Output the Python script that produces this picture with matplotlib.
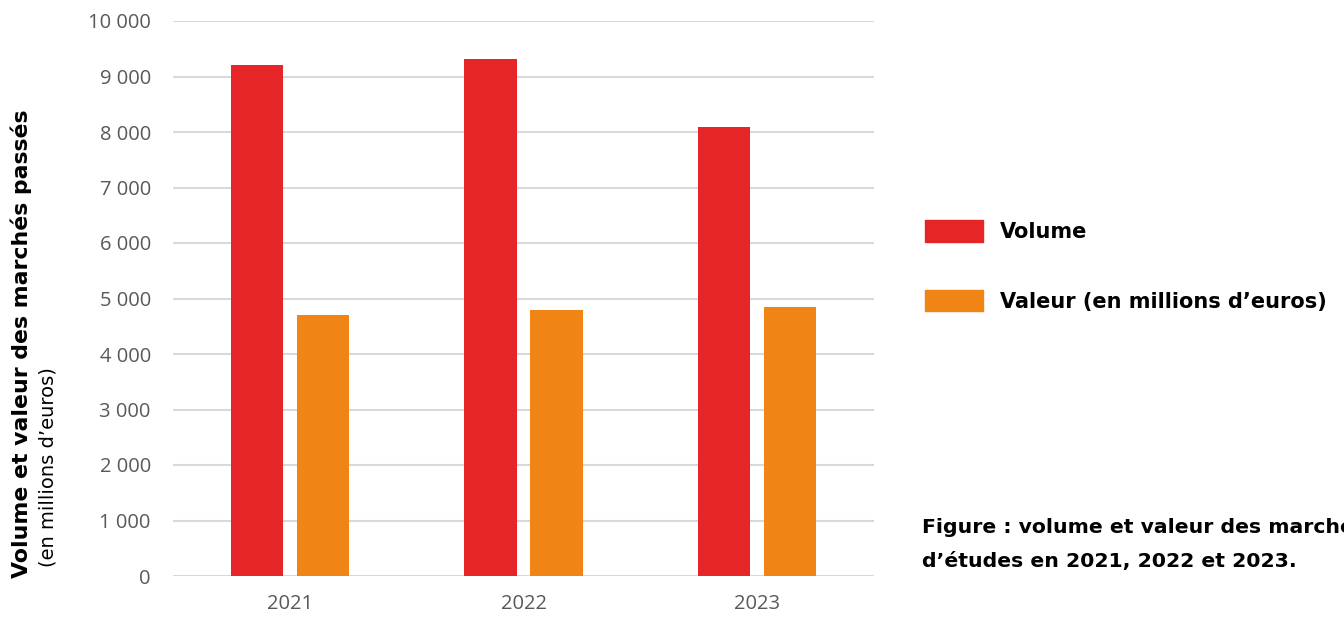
import numpy as np
import matplotlib.pyplot as plt
from matplotlib.patches import Patch

years = ["2021", "2022", "2023"]
volume = [9200, 9320, 8090]
valeur = [4710, 4800, 4850]
yticks = [0, 1000, 2000, 3000, 4000, 5000, 6000, 7000, 8000, 9000, 10000]
ytick_labels = ["0", "1 000", "2 000", "3 000", "4 000", "5 000",
                "6 000", "7 000", "8 000", "9 000", "10 000"]

red = "#E52528"
orange = "#F08516"

fig = plt.figure(figsize=(13.44, 6.19), dpi=100)
ax = fig.add_axes([173 / 1344, 1 - 576 / 619, (874 - 173) / 1344, (576 - 21) / 619])

x = np.arange(len(years))
w = 0.223
ax.bar(x - 0.141, volume, width=w, color=red, zorder=3)
ax.bar(x + 0.141, valeur, width=w, color=orange, zorder=3)

ax.set_xlim(-0.5, 2.5)
ax.set_ylim(0, 10000)
ax.set_yticks(yticks)
ax.set_yticklabels(ytick_labels)
ax.set_xticks(x)
ax.set_xticklabels(years)
ax.grid(axis="y", color="#d9d9d9", linewidth=1.5, zorder=0)
ax.set_axisbelow(True)
for s in ax.spines.values():
    s.set_visible(False)
ax.tick_params(length=0, labelsize=14.5, colors="#595959", labelfontfamily="Open Sans")
ax.tick_params(axis="y", pad=16)
ax.tick_params(axis="x", pad=13)

# y label: bold line + regular line
fig.text(21 / 1344, 1 - 344 / 619, "Volume et valeur des marchés passés", rotation=90,
         ha="center", va="center", fontsize=15.8, fontweight="bold", family="DejaVu Sans")
fig.text(48 / 1344, 1 - 467 / 619, "(en millions d\u2019euros)", rotation=90,
         ha="center", va="center", fontsize=14, family="DejaVu Sans")

handles = [Patch(color=red), Patch(color=orange)]
leg = fig.legend(handles, ["Volume", "Valeur (en millions d\u2019euros)"],
                 loc="center left", bbox_to_anchor=(906 / 1344, 1 - 266 / 619),
                 frameon=False, handlelength=2.8, handleheight=1.2,
                 labelspacing=2.3, handletextpad=0.8,
                 prop={"family": "DejaVu Sans", "weight": "bold", "size": 15})

fig.text(922 / 1344, 1 - 527 / 619, "Figure : volume et valeur des marchés",
         ha="left", va="center", fontsize=14.7, fontweight="bold", family="DejaVu Sans")
fig.text(922 / 1344, 1 - 561 / 619, "d\u2019études en 2021, 2022 et 2023.",
         ha="left", va="center", fontsize=14.7, fontweight="bold", family="DejaVu Sans")

fig.savefig("out.png", dpi=100)
